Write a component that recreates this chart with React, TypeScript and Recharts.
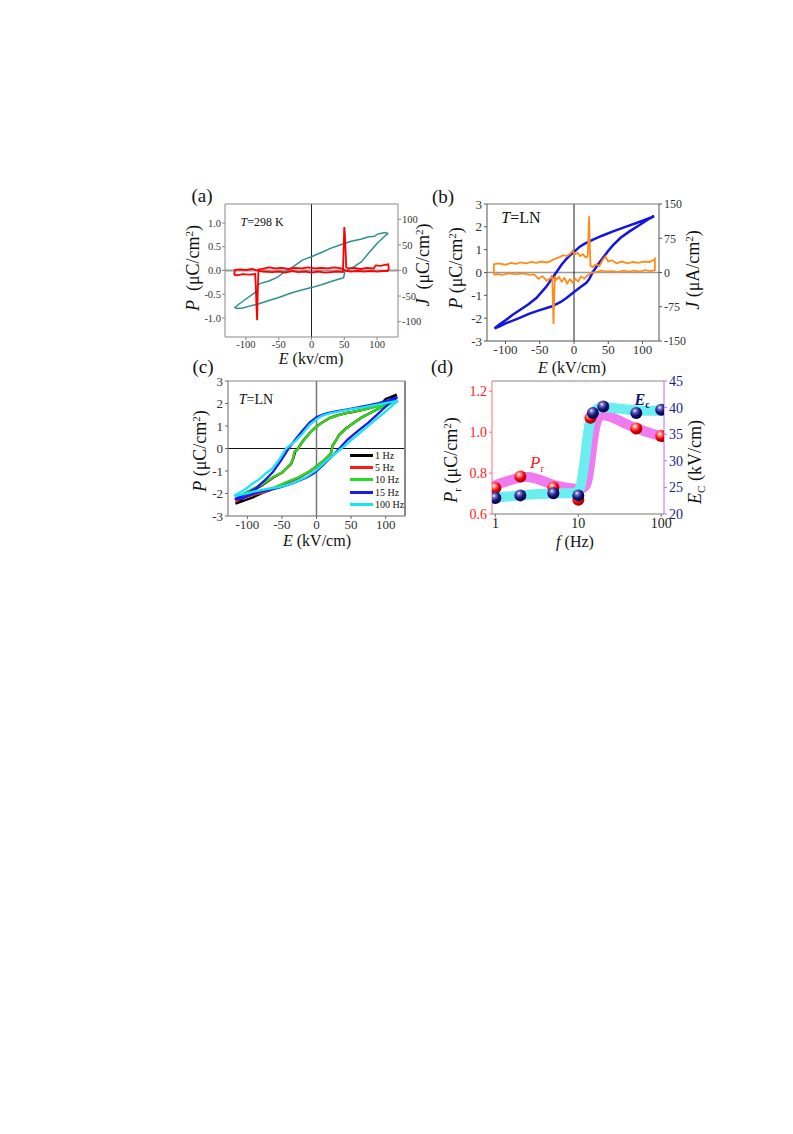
import React from "react";
import { LineChart, Line, XAxis, YAxis, ReferenceLine, ComposedChart, Scatter } from "recharts";

type Pt = [number, number];

// (a) T = 298 K : polarization loop (left axis) and switching current (right axis)
const A_POL: Pt[] = [
  [117, 0.78], [112, 0.8], [105, 0.78], [100, 0.76], [96, 0.72], [88, 0.71], [75, 0.66], [62, 0.62],
  [50, 0.57], [40, 0.52], [28, 0.46], [15, 0.38], [5, 0.32], [0, 0.29], [-8, 0.25], [-14, 0.22],
  [-25, 0.11], [-38, 0.0], [-53, -0.15], [-65, -0.22], [-78, -0.27], [-82, -0.3], [-83, -0.42],
  [-88, -0.48], [-100, -0.6], [-110, -0.7], [-117, -0.78], [-114, -0.8], [-105, -0.79], [-92, -0.74],
  [-80, -0.7], [-65, -0.63], [-50, -0.57], [-30, -0.47], [-15, -0.41], [0, -0.36], [15, -0.3],
  [30, -0.23], [45, -0.17], [49, -0.15], [51, -0.02], [56, 0.02], [65, 0.08], [76, 0.18], [88, 0.38],
  [100, 0.57], [110, 0.7], [117, 0.78],
];
const A_CUR: Pt[] = [
  [-118, -9], [-117, 1], [-110, 2], [-100, 1], [-90, 3], [-83, 0], [-75, -2], [-60, -3], [-50, -2],
  [-40, -4], [-30, -1], [-20, -3], [-10, -2], [0, -4], [10, -2], [20, -4], [30, -3], [40, -2], [48, -3],
  [49, 40], [50, 85], [51, 70], [52, 40], [53, 6], [56, 4], [65, 5], [75, 3], [85, 5], [95, 4], [98, 10],
  [105, 9], [112, 11], [117, 12], [118, 3], [116, -1], [110, -1], [100, -2], [90, -1], [80, -2], [70, -1],
  [60, -2], [54, -1], [45, 4], [35, 6], [25, 4], [15, 5], [5, 4], [-5, 6], [-15, 4], [-25, 5], [-35, 3],
  [-45, 5], [-55, 4], [-65, 6], [-75, 3], [-81, 2], [-82, -40], [-83, -97], [-84, -70], [-85, -30],
  [-86, -7], [-95, -8], [-105, -7], [-112, -9], [-118, -9],
];

// (b) T = LN
const B_POL: Pt[] = [
  [117, 2.47], [105, 2.33], [91, 2.17], [75, 2.0], [57, 1.8], [40, 1.6], [27, 1.43], [15, 1.25], [8, 1.12],
  [0, 0.9], [-6, 0.75], [-11, 0.6], [-18, 0.35], [-26, 0.0], [-33, -0.3], [-40, -0.6], [-48, -0.88],
  [-55, -1.12], [-67, -1.4], [-79, -1.64], [-90, -1.86], [-99, -2.07], [-110, -2.3], [-116, -2.45],
  [-110, -2.38], [-99, -2.22], [-82, -2.02], [-65, -1.8], [-50, -1.65], [-33, -1.49], [-20, -1.3],
  [-11, -1.12], [0, -0.85], [10, -0.62], [18, -0.45], [22, -0.3], [27, 0.0], [35, 0.35], [42, 0.63],
  [50, 0.95], [57, 1.2], [68, 1.52], [81, 1.8], [95, 2.07], [108, 2.32], [117, 2.47],
];
const B_CUR: Pt[] = [
  [-117, -5], [-117, 18], [-110, 20], [-100, 17], [-92, 21], [-85, 19], [-78, 22], [-70, 20], [-62, 23],
  [-55, 21], [-47, 24], [-40, 22], [-34, 25], [-28, 30], [-22, 33], [-16, 38], [-10, 36], [-5, 42],
  [-2, 48], [1, 40], [5, 43], [9, 36], [13, 40], [17, 33], [20, 35], [21, 80], [22, 123], [23, 60],
  [24, 15], [27, 12], [32, 18], [37, 14], [42, 28], [46, 35], [50, 24], [55, 27], [62, 20], [70, 24],
  [78, 20], [86, 23], [94, 21], [102, 24], [110, 23], [116, 27], [118, 30], [118, 5], [112, 3], [104, 5],
  [96, 2], [88, 4], [80, 2], [72, 4], [64, 1], [56, 3], [48, 2], [40, 4], [32, 1], [26, 0], [20, -6],
  [15, -14], [10, -9], [6, -20], [2, -14], [-2, -22], [-6, -15], [-10, -24], [-14, -12], [-18, -20],
  [-22, -10], [-26, -16], [-28, -8], [-29, -60], [-30, -113], [-31, -50], [-32, -6], [-34, -12],
  [-40, -18], [-46, -8], [-52, -14], [-58, -4], [-65, -5], [-75, -2], [-85, -4], [-95, -2], [-105, -5],
  [-112, -3], [-117, -5],
];

// (c) T = LN, frequency dependence
const C_1HZ: Pt[] = [
  [116, 2.4], [108, 2.3], [100, 2.2], [95, 2.02], [80, 1.83], [67, 1.72], [52, 1.62], [43, 1.57], [30, 1.47],
  [19, 1.35], [8, 1.15], [0, 0.97], [-10, 0.68], [-20, 0.32], [-28, -0.06], [-31, -0.15], [-33, -0.4],
  [-37, -0.7], [-49, -1.05], [-63, -1.3], [-78, -1.62], [-92, -1.87], [-105, -2.17], [-117, -2.45],
  [-105, -2.32], [-92, -2.17], [-78, -1.98], [-60, -1.76], [-44, -1.53], [-25, -1.29], [-12, -1.06],
  [0, -0.8], [10, -0.55], [20, -0.25], [21.5, -0.15], [23, 0.12], [28, 0.35], [33, 0.62], [43, 0.9],
  [53, 1.12], [65, 1.38], [77, 1.57], [90, 1.78], [101, 2.0], [110, 2.25], [116, 2.4],
];
const C_5HZ: Pt[] = [
  [116, 2.25], [105, 2.08], [96, 1.95], [82, 1.84], [67, 1.73], [52, 1.63], [43, 1.58], [30, 1.47],
  [19, 1.36], [8, 1.16], [0, 0.98], [-10, 0.69], [-20, 0.31], [-28.5, -0.07], [-32, -0.15], [-34, -0.44],
  [-37, -0.68], [-49, -1.06], [-63, -1.29], [-78, -1.6], [-92, -1.82], [-105, -2.07], [-117, -2.35],
  [-110, -2.24], [-95, -2.08], [-78, -1.97], [-60, -1.74], [-44, -1.52], [-25, -1.28], [-12, -1.06],
  [0, -0.8], [10, -0.55], [20, -0.25], [21.5, -0.15], [23.5, 0.15], [33, 0.6], [43, 0.88], [53, 1.12],
  [65, 1.37], [77, 1.57], [90, 1.77], [101, 1.92], [110, 2.08], [116, 2.25],
];
const C_10HZ: Pt[] = [
  [116, 2.2], [105, 2.05], [96, 1.94], [82, 1.83], [67, 1.72], [52, 1.63], [43, 1.57], [30, 1.46],
  [19, 1.35], [8, 1.15], [0, 0.97], [-10, 0.68], [-20, 0.3], [-28.5, -0.08], [-32, -0.15], [-34, -0.45],
  [-37, -0.67], [-49, -1.05], [-63, -1.27], [-78, -1.58], [-92, -1.79], [-105, -2.0], [-117, -2.22],
  [-110, -2.15], [-95, -2.02], [-78, -1.93], [-60, -1.72], [-44, -1.5], [-25, -1.27], [-12, -1.05],
  [0, -0.8], [10, -0.55], [20, -0.25], [21.5, -0.15], [23.5, 0.15], [33, 0.6], [43, 0.88], [53, 1.12],
  [65, 1.37], [77, 1.57], [90, 1.77], [101, 1.9], [110, 2.05], [116, 2.2],
];
const C_15HZ: Pt[] = [
  [117, 2.29], [105, 2.15], [90, 2.02], [75, 1.92], [60, 1.83], [45, 1.74], [30, 1.66], [19, 1.6], [10, 1.52],
  [0, 1.39], [-10, 1.15], [-20, 0.8], [-30, 0.42], [-40, 0.02], [-51, -0.52], [-63, -1.05], [-75, -1.42],
  [-87, -1.75], [-100, -1.98], [-112, -2.17], [-118, -2.25], [-110, -2.24], [-92, -2.02], [-75, -1.88],
  [-54, -1.74], [-35, -1.55], [-15, -1.3], [-5, -1.12], [0, -1.0], [10, -0.72], [20, -0.42], [33, 0.0],
  [45, 0.4], [60, 0.78], [75, 1.15], [90, 1.57], [105, 2.0], [117, 2.29],
];
const C_100HZ: Pt[] = [
  [118, 2.13], [100, 2.02], [82, 1.92], [65, 1.82], [52, 1.76], [35, 1.66], [19, 1.56], [8, 1.45], [0, 1.3],
  [-10, 1.05], [-20, 0.67], [-30, 0.35], [-44, 0.0], [-54, -0.5], [-64, -0.9], [-73, -1.1], [-82, -1.35],
  [-92, -1.55], [-105, -1.85], [-119, -2.1], [-110, -2.06], [-92, -1.92], [-72, -1.8], [-54, -1.72],
  [-35, -1.55], [-15, -1.27], [0, -0.95], [12, -0.62], [24, -0.3], [36, 0.0], [48, 0.32], [62, 0.67],
  [76, 1.04], [91, 1.42], [105, 1.78], [118, 2.13],
];
const C_NAMES = ["1 Hz", "5 Hz", "10 Hz", "15 Hz", "100 Hz"];
const C_COLORS = ["#000000", "#ff1a1a", "#22dd22", "#1a1aee", "#19e3f5"];
const C_LOOPS = [C_1HZ, C_5HZ, C_10HZ, C_15HZ, C_100HZ];

// (d) remanent polarization and coercive field vs frequency
const PR_F = [1, 2, 5, 10, 14, 50, 100];
const PR_V = [0.727, 0.783, 0.729, 0.67, 1.07, 1.018, 0.981];
const EC_F = [1, 2, 5, 10, 15, 20, 50, 100];
const EC_V = [23.0, 23.5, 23.9, 23.5, 39.0, 40.2, 39.0, 39.6];
const PR_BAND_F = [0.91, 1, 1.5, 2, 2.5, 3, 4, 5, 6.5, 8, 10, 11, 12, 13, 14, 15, 16, 17, 18, 20, 25, 30, 40, 50, 75, 100, 108];
const PR_BAND_V = [0.735, 0.742, 0.765, 0.78, 0.782, 0.775, 0.757, 0.742, 0.732, 0.726, 0.722, 0.724, 0.73, 0.76, 0.86, 0.96, 1.03, 1.065, 1.08, 1.085, 1.075, 1.06, 1.035, 1.018, 0.995, 0.979, 0.975];
const EC_BAND_F = [0.91, 1, 2, 3, 5, 8, 10, 10.7, 11.8, 12.7, 13.5, 14.8, 17, 20, 30, 50, 100, 108];
const EC_BAND_V = [23.0, 23.1, 23.5, 23.7, 23.9, 23.9, 24.0, 24.9, 29.3, 33.6, 36.8, 39.0, 39.9, 40.2, 39.8, 39.4, 39.4, 39.4];

const FONT = "'Liberation Serif', 'Times New Roman', serif";
const YW = 44;
const XH = 30;
const TH = 1;
const MT = 10;
const MARGIN = { top: MT, right: 0, bottom: 0, left: 0 };

type Frame = { x: number; y: number; w: number; h: number };
const FA: Frame = { x: 225, y: 204, w: 173, h: 133 };
const FB: Frame = { x: 487, y: 204, w: 172, h: 137 };
const FC: Frame = { x: 228, y: 381, w: 177, h: 135 };
const FD: Frame = { x: 492, y: 381, w: 172, h: 133 };

const toE = (pts: Pt[]) => pts.map(([e, v]) => ({ e, v }));
const toF = (f: number[], v: number[]) => f.map((x, i) => ({ f: x, v: v[i] }));

const wrap = (f: Frame, rw = YW): React.CSSProperties => ({
  position: "absolute",
  left: f.x - YW,
  top: f.y - TH - MT,
  width: f.w + YW + rw,
  height: f.h + TH + XH + MT,
});

function VLabel({ x, y, size = 18, children }: { x: number; y: number; size?: number; children: React.ReactNode }) {
  return (
    <div style={{ position: "absolute", left: x, top: y, transform: "translate(-50%,-50%) rotate(-90deg)", fontSize: size, whiteSpace: "nowrap", lineHeight: 1 }}>
      {children}
    </div>
  );
}

function HText({ x, y, size = 16, style, children }: { x: number; y: number; size?: number; style?: React.CSSProperties; children: React.ReactNode }) {
  return (
    <div style={{ position: "absolute", left: x, top: y, transform: "translate(-50%,-50%)", fontSize: size, whiteSpace: "nowrap", lineHeight: 1, ...style }}>
      {children}
    </div>
  );
}

const Sup = ({ children }: { children: React.ReactNode }) => (
  <span style={{ fontSize: "0.62em", position: "relative", top: "-0.55em" }}>{children}</span>
);
const Sub = ({ children }: { children: React.ReactNode }) => (
  <span style={{ fontSize: "0.62em", position: "relative", top: "0.35em" }}>{children}</span>
);

const unitPC = (
  <>
    (μC/cm<Sup>2</Sup>)
  </>
);

function PanelA() {
  const tick = { fontSize: 10.5, fill: "#333" };
  return (
    <div style={wrap(FA)}>
      <LineChart width={FA.w + 2 * YW} height={FA.h + TH + XH + MT} margin={MARGIN}>
        <XAxis dataKey="e" type="number" domain={[-132, 132]} ticks={[-100, -50, 0, 50, 100]} allowDataOverflow height={XH} tickSize={3} tickMargin={1} tick={tick} stroke="#888" interval={0} />
        <XAxis xAxisId="top" orientation="top" type="number" domain={[-132, 132]} tick={false} tickLine={false} height={TH} stroke="#888" />
        <YAxis yAxisId="p" dataKey="v" type="number" domain={[-1.4, 1.4]} ticks={[-1, -0.5, 0, 0.5, 1]} tickFormatter={(v: number) => v.toFixed(1)} allowDataOverflow width={YW} tickSize={3} tickMargin={1} tick={tick} stroke="#888" interval={0} />
        <YAxis yAxisId="j" orientation="right" dataKey="v" type="number" domain={[-130, 130]} ticks={[-100, -50, 0, 50, 100]} allowDataOverflow width={YW} tickSize={3} tickMargin={1} tick={tick} stroke="#888" interval={0} />
        <ReferenceLine yAxisId="p" y={0} stroke="#9a9a9a" strokeWidth={2} />
        <ReferenceLine yAxisId="p" x={0} stroke="#222" strokeWidth={1} />
        <Line yAxisId="p" data={toE(A_POL)} dataKey="v" type="linear" stroke="#2a9090" strokeWidth={1.5} dot={false} isAnimationActive={false} />
        <Line yAxisId="j" data={toE(A_CUR)} dataKey="v" type="linear" stroke="#ff0000" strokeWidth={1.8} dot={false} isAnimationActive={false} />
      </LineChart>
    </div>
  );
}

function PanelB() {
  const tick = { fontSize: 13, fill: "#333" };
  return (
    <div style={wrap(FB)}>
      <LineChart width={FB.w + 2 * YW} height={FB.h + TH + XH + MT} margin={MARGIN}>
        <XAxis dataKey="e" type="number" domain={[-127, 124]} ticks={[-100, -50, 0, 50, 100]} allowDataOverflow height={XH} tickSize={3} tickMargin={1} tick={tick} stroke="#555" interval={0} />
        <XAxis xAxisId="top" orientation="top" type="number" domain={[-127, 124]} tick={false} tickLine={false} height={TH} stroke="#777" />
        <YAxis yAxisId="p" dataKey="v" type="number" domain={[-3, 3]} ticks={[-3, -2, -1, 0, 1, 2, 3]} allowDataOverflow width={YW} tickSize={3} tickMargin={2} tick={tick} stroke="#555" interval={0} />
        <YAxis yAxisId="j" orientation="right" dataKey="v" type="number" domain={[-150, 150]} ticks={[-150, -75, 0, 75, 150]} allowDataOverflow width={YW} tickSize={3} tickMargin={2} tick={{ fontSize: 12, fill: "#333" }} stroke="#555" interval={0} />
        <ReferenceLine yAxisId="p" y={0} stroke="#9a9a9a" strokeWidth={1.5} />
        <ReferenceLine yAxisId="p" x={0} stroke="#222" strokeWidth={1} />
        <Line yAxisId="p" data={toE(B_POL)} dataKey="v" type="linear" stroke="#1515e0" strokeWidth={2.5} dot={false} isAnimationActive={false} />
        <Line yAxisId="j" data={toE(B_CUR)} dataKey="v" type="linear" stroke="#ff8c1a" strokeWidth={1.8} dot={false} isAnimationActive={false} />
      </LineChart>
    </div>
  );
}

function PanelC() {
  const tick = { fontSize: 13, fill: "#333" };
  return (
    <div style={wrap(FC, 2)}>
      <LineChart width={FC.w + YW + 2} height={FC.h + TH + XH + MT} margin={MARGIN}>
        <XAxis dataKey="e" type="number" domain={[-128, 128]} ticks={[-100, -50, 0, 50, 100]} allowDataOverflow height={XH} tickSize={3} tickMargin={1} tick={tick} stroke="#666" interval={0} />
        <XAxis xAxisId="top" orientation="top" type="number" domain={[-128, 128]} tick={false} tickLine={false} height={TH} stroke="#888" />
        <YAxis yAxisId="p" dataKey="v" type="number" domain={[-3, 3]} ticks={[-3, -2, -1, 0, 1, 2, 3]} allowDataOverflow width={YW} tickSize={3} tickMargin={2} tick={tick} stroke="#666" interval={0} />
        <YAxis yAxisId="r" orientation="right" type="number" domain={[-3, 3]} tick={false} tickLine={false} width={2} stroke="#888" strokeWidth={2} />
        <ReferenceLine yAxisId="p" y={0} stroke="#111" strokeWidth={1} />
        <ReferenceLine yAxisId="p" x={0} stroke="#777" strokeWidth={1.5} />
        {C_LOOPS.map((loop, i) => (
          <Line key={C_NAMES[i]} name={C_NAMES[i]} yAxisId="p" data={toE(loop)} dataKey="v" type="linear" stroke={C_COLORS[i]} strokeWidth={2.3} dot={false} isAnimationActive={false} />
        ))}
      </LineChart>
      <div style={{ position: "absolute", left: 350 - (FC.x - YW), top: 449 - (FC.y - TH - MT) }}>
        {C_NAMES.map((n, i) => (
          <div key={n} style={{ display: "flex", alignItems: "center", height: 12.4, fontSize: 10 }}>
            <span style={{ display: "inline-block", width: 23, height: 3, background: C_COLORS[i], marginRight: 2 }} />
            <span>{n}</span>
          </div>
        ))}
      </div>
    </div>
  );
}

const Ball = (id: string) => (props: any) => {
  const { cx, cy } = props;
  if (cx == null || cy == null) return <g />;
  return <circle cx={cx} cy={cy} r={6} fill={`url(#${id})`} />;
};

function PanelD() {
  const leftTick = { fontSize: 14, fill: "#ff2020" };
  const rightTick = { fontSize: 14, fill: "#1a1a8c" };
  return (
    <div style={wrap(FD)}>
      <ComposedChart width={FD.w + 2 * YW} height={FD.h + TH + XH + MT} margin={MARGIN}>
        <defs>
          <radialGradient id="ballRed" cx="38%" cy="32%" r="70%">
            <stop offset="0%" stopColor="#ffffff" />
            <stop offset="22%" stopColor="#ff8a8a" />
            <stop offset="60%" stopColor="#f00000" />
            <stop offset="100%" stopColor="#8a0000" />
          </radialGradient>
          <radialGradient id="ballBlue" cx="38%" cy="32%" r="70%">
            <stop offset="0%" stopColor="#ffffff" />
            <stop offset="22%" stopColor="#7070c8" />
            <stop offset="60%" stopColor="#12127a" />
            <stop offset="100%" stopColor="#00003a" />
          </radialGradient>
        </defs>
        <XAxis dataKey="f" type="number" scale="log" domain={[0.91, 108]} ticks={[1, 10, 100]} allowDataOverflow height={XH} tickSize={3} tickMargin={1} tick={{ fontSize: 14, fill: "#222" }} stroke="#777" interval={0} />
        <XAxis xAxisId="top" orientation="top" type="number" scale="log" domain={[0.91, 108]} tick={false} tickLine={false} height={TH} stroke="#888" />
        <YAxis yAxisId="pr" dataKey="v" type="number" domain={[0.6, 1.25]} ticks={[0.6, 0.8, 1.0, 1.2]} tickFormatter={(v: number) => v.toFixed(1)} allowDataOverflow width={YW} tickSize={3} tickMargin={2} tick={leftTick} stroke="#ff7070" interval={0} />
        <YAxis yAxisId="ec" orientation="right" dataKey="v" type="number" domain={[20, 45]} ticks={[20, 25, 30, 35, 40, 45]} allowDataOverflow width={YW} tickSize={3} tickMargin={2} tick={rightTick} stroke="#b86cff" interval={0} />
        <Line yAxisId="pr" data={toF(PR_BAND_F, PR_BAND_V)} dataKey="v" type="basis" stroke="#f07af0" strokeWidth={10} dot={false} isAnimationActive={false} />
        <Line yAxisId="ec" data={toF(EC_BAND_F, EC_BAND_V)} dataKey="v" type="basis" stroke="#6aeef0" strokeWidth={10} dot={false} isAnimationActive={false} />
        <Scatter yAxisId="pr" data={toF(PR_F, PR_V)} dataKey="v" shape={Ball("ballRed")} isAnimationActive={false} />
        <Scatter yAxisId="ec" data={toF(EC_F, EC_V)} dataKey="v" shape={Ball("ballBlue")} isAnimationActive={false} />
      </ComposedChart>
    </div>
  );
}

export default function App() {
  return (
    <div style={{ position: "absolute", left: 0, top: 0, width: 793, height: 1134, background: "#fff", fontFamily: FONT, color: "#111" }}>
      <PanelA />
      <PanelB />
      <PanelC />
      <PanelD />

      <HText x={202} y={195} size={19}>(a)</HText>
      <HText x={443} y={196} size={19}>(b)</HText>
      <HText x={203} y={366} size={19}>(c)</HText>
      <HText x={442} y={366} size={19}>(d)</HText>

      <HText x={262} y={222} size={12}><i>T</i>=298 K</HText>
      <HText x={521} y={218} size={16}><i>T</i>=LN</HText>
      <HText x={256} y={400} size={14}><i>T</i>=LN</HText>

      <VLabel x={193} y={268}><i>P</i>&nbsp;&nbsp;{unitPC}</VLabel>
      <VLabel x={423} y={265}><i>J</i>&nbsp;&nbsp;{unitPC}</VLabel>
      <VLabel x={456} y={268}><i>P</i> {unitPC}</VLabel>
      <VLabel x={693} y={270}><i>J</i> (μA/cm<Sup>2</Sup>)</VLabel>
      <VLabel x={200} y={451}><i>P</i> {unitPC}</VLabel>
      <VLabel x={451} y={460}><i>P</i><Sub>r</Sub> {unitPC}</VLabel>
      <VLabel x={695} y={462}><i>E</i><Sub>C</Sub> (kV/cm)</VLabel>

      <HText x={311} y={359} size={16}><i>E</i> (kv/cm)</HText>
      <HText x={572} y={368} size={16}><i>E</i> (kV/cm)</HText>
      <HText x={317} y={541} size={16}><i>E</i> (kV/cm)</HText>
      <HText x={575} y={542} size={16}><i>f</i> (Hz)</HText>

      <HText x={537} y={462} size={17} style={{ color: "#ff1a1a" }}><i>P</i><Sub>r</Sub></HText>
      <HText x={642} y={400} size={16} style={{ color: "#12127a", fontWeight: "bold" }}><i>E</i><Sub>c</Sub></HText>
    </div>
  );
}
